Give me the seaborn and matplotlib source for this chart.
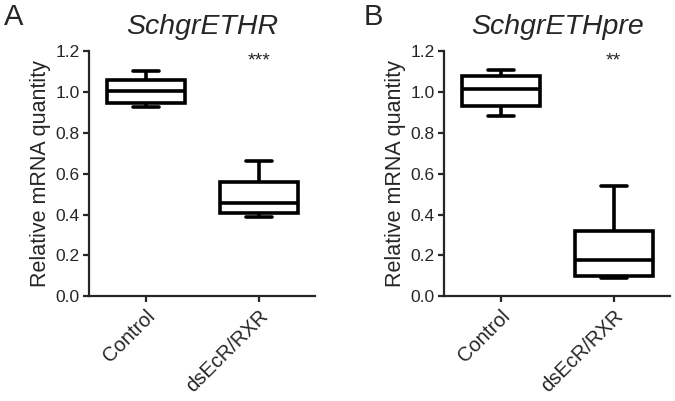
import pandas as pd
import seaborn as sns
import matplotlib.pyplot as plt

groups = ["Control", "dsEcR/RXR"]
# five-number summaries (min, Q1, median, Q3, max)
ethr_control = [0.927, 0.946, 1.002, 1.058, 1.104]
ethr_dsrna = [0.388, 0.408, 0.457, 0.560, 0.663]
ethpre_control = [0.880, 0.932, 1.014, 1.079, 1.107]
ethpre_dsrna = [0.088, 0.100, 0.178, 0.321, 0.540]
titles = ["SchgrETHR", "SchgrETHpre"]
stars = ["***", "**"]
letters = ["A", "B"]
yticks = [0.0, 0.2, 0.4, 0.6, 0.8, 1.0, 1.2]

sns.set_style("ticks")
plt.rcParams['font.family'] = ['Liberation Sans', 'DejaVu Sans']

fig = plt.figure(figsize=(6.75, 4.01), dpi=100)
ax_a = fig.add_axes([0.132, 0.261, 0.335, 0.612])
ax_b = fig.add_axes([0.658, 0.261, 0.335, 0.612])

panels = [(ax_a, ethr_control, ethr_dsrna), (ax_b, ethpre_control, ethpre_dsrna)]
for i, (ax, ctrl, ds) in enumerate(panels):
    df = pd.DataFrame({
        "group": [groups[0]] * len(ctrl) + [groups[1]] * len(ds),
        "value": ctrl + ds,
    })
    sns.boxplot(data=df, x="group", y="value", ax=ax, whis=(0, 100),
                width=0.69, color="white", linecolor="black", linewidth=2.6)
    # narrower caps, like the prism style
    for ln in ax.lines:
        xd = list(ln.get_xdata())
        yd = list(ln.get_ydata())
        if len(xd) == 2 and yd[0] == yd[1] and abs(xd[1] - xd[0]) < 0.5:
            c = (xd[0] + xd[1]) / 2
            ln.set_xdata([c - 0.115, c + 0.115])
    ax.set_xlim(-0.5, 1.5)
    ax.set_ylim(0, 1.2)
    ax.set_yticks(yticks)
    ax.set_yticklabels([f"{t:.1f}" for t in yticks], fontsize=12.5)
    ax.set_xticks([0, 1])
    ax.set_xticklabels(groups, fontsize=14.5, rotation=45, ha="right",
                       rotation_mode="anchor")
    ax.set_xlabel("")
    ax.set_ylabel("Relative mRNA quantity", fontsize=15.5, labelpad=3)
    ax.set_title(titles[i], fontsize=20.5, style="italic", pad=12)
    sns.despine(ax=ax)
    for s in ["left", "bottom"]:
        ax.spines[s].set_linewidth(1.6)
    ax.tick_params(width=1.6, length=4, pad=3)
    ax.text(1, 1.15, stars[i], ha="center", va="center", fontsize=14)

fig.text(0.006, 0.957, letters[0], fontsize=21, ha="left", va="center")
fig.text(0.538, 0.957, letters[1], fontsize=21, ha="left", va="center")

plt.savefig("out.png", dpi=100)
